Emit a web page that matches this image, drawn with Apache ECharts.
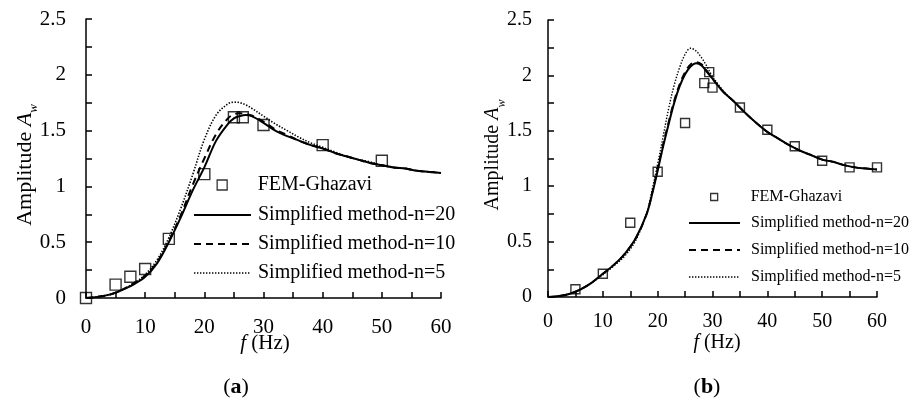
<!DOCTYPE html>
<html><head><meta charset="utf-8">
<script src="https://cdn.jsdelivr.net/npm/echarts@6/dist/echarts.min.js"></script>
<style>html,body{margin:0;padding:0;background:#fff}#c{width:913px;height:401px}</style>
</head><body><div id="c"></div>
<script>
// ---------- data ----------
const legendNames = ['FEM-Ghazavi', 'Simplified method-n=20', 'Simplified method-n=10', 'Simplified method-n=5'];
const panelLabels = ['a', 'b'];
const xAxisTitle = '{i|f} (Hz)';
const yAxisTitle = '{n|Amplitude }{i|A}{s|w}';

// panel (a)
const aFemX = [0, 5, 7.5, 10, 14, 20, 25, 26.5, 30, 40, 50];
const aFemY = [0, 0.12, 0.19, 0.26, 0.53, 1.11, 1.62, 1.62, 1.55, 1.37, 1.23];
const aCurveX = [0,2,4,6,8,10,12,14,16,18,20,22,24,25,26,27,28,30,32,34,36,38,40,42,44,46,48,50,52,54,56,58,60];
const aN20 = [0,0.01,0.03,0.07,0.12,0.19,0.31,0.50,0.72,0.96,1.17,1.41,1.56,1.61,1.63,1.64,1.63,1.57,1.50,1.45,1.41,1.37,1.34,1.30,1.27,1.24,1.21,1.19,1.17,1.16,1.14,1.13,1.12];
const aN10 = [0,0.01,0.03,0.07,0.13,0.20,0.32,0.51,0.74,1.01,1.25,1.47,1.61,1.645,1.655,1.65,1.635,1.58,1.51,1.46,1.41,1.37,1.34,1.30,1.27,1.24,1.21,1.19,1.17,1.16,1.14,1.13,1.12];
const aN5  = [0,0.01,0.03,0.07,0.13,0.21,0.34,0.54,0.80,1.10,1.42,1.64,1.74,1.755,1.75,1.73,1.70,1.63,1.56,1.50,1.44,1.39,1.35,1.31,1.27,1.24,1.22,1.19,1.17,1.16,1.14,1.13,1.12];

// panel (b)
const bFemX = [5, 10, 15, 20, 25, 28.5, 29.4, 30, 35, 40, 45, 50, 55, 60];
const bFemY = [0.07, 0.21, 0.67, 1.13, 1.57, 1.93, 2.03, 1.89, 1.71, 1.51, 1.36, 1.23, 1.17, 1.17];
const bCurveX = [0,2,4,6,8,10,12,14,16,18,19,20,21,22,23,24,25,26,27,28,29,30,32,34,36,38,40,42,44,46,48,50,52,54,56,58,60];
const bN20 = [0,0.008,0.03,0.07,0.13,0.21,0.29,0.39,0.53,0.75,0.93,1.14,1.36,1.56,1.75,1.90,2.01,2.08,2.11,2.09,2.03,1.97,1.85,1.76,1.66,1.57,1.49,1.43,1.37,1.32,1.28,1.24,1.22,1.19,1.17,1.16,1.15];
const bN10 = [0,0.008,0.03,0.07,0.13,0.21,0.29,0.39,0.53,0.75,0.94,1.16,1.38,1.58,1.77,1.92,2.03,2.10,2.12,2.10,2.04,1.97,1.85,1.76,1.66,1.57,1.49,1.43,1.37,1.32,1.28,1.24,1.22,1.19,1.17,1.16,1.15];
const bN5  = [0,0.008,0.03,0.07,0.13,0.20,0.28,0.37,0.51,0.76,0.97,1.20,1.45,1.70,1.91,2.07,2.19,2.245,2.22,2.16,2.08,1.99,1.86,1.76,1.66,1.57,1.49,1.43,1.37,1.32,1.28,1.24,1.22,1.19,1.17,1.16,1.15];

const xMin = 0, xMax = 60, xTickStep = 5, xLabelStep = 10;
const yMin = 0, yMax = 2.5, yTickStep = 0.25, yLabelStep = 0.5;

// ---------- build ----------
const FONT = '"Liberation Serif","Times New Roman",serif';
const pair = (xs, ys) => xs.map((x, i) => [x, ys[i]]);
const every = step => v => (Math.abs(v / step - Math.round(v / step)) < 1e-6 ? String(+v.toFixed(3)) : '');
const ZW = '\u200b'; // keeps panel (b) series names distinct

const P = [
  { grid: {left: 86, top: 19, width: 355, height: 279}, fs: 21, lfs: 20, lab: [20, 19],
    xTitle: [265, 343], yTitle: [25, 165], yfs: 22,
    sym: 11, legL: 193, legIW: 57, scSym: 10, scTop: 175, lnTop: 205, lnGap: 9, lnLH: 20, txtPad: 2, suffix: '',
    fem: pair(aFemX, aFemY), c: [pair(aCurveX, aN20), pair(aCurveX, aN10), pair(aCurveX, aN5)], lw: [2, 2, 1.6], ttl: [236, 387] },
  { grid: {left: 548, top: 20, width: 329, height: 277}, fs: 20, lfs: 16, lab: [16, 15],
    xTitle: [717, 343], yTitle: [493, 155], yfs: 20,
    sym: 9, legL: 688, legIW: 51, scSym: 7, scTop: 189, lnTop: 215, lnGap: 11, lnLH: 16, txtPad: 6, suffix: ZW,
    fem: pair(bFemX, bFemY), c: [pair(bCurveX, bN20), pair(bCurveX, bN10), pair(bCurveX, bN5)], lw: [2, 1.8, 1.4], ttl: [707, 387] }
];
const lineTypes = ['solid', [7, 5], [1.4, 1.6]];

const axLine = () => ({show: true, lineStyle: {color: '#000', width: 1.5}});
const tick = () => ({show: true, inside: true, length: 6, lineStyle: {color: '#000', width: 1.5}});

const option = { animation: false, grid: [], xAxis: [], yAxis: [], series: [], legend: [], graphic: [] };
P.forEach((p, k) => {
  option.grid.push(p.grid);
  option.xAxis.push({
    gridIndex: k, type: 'value', min: xMin, max: xMax, interval: xTickStep, z: 10,
    axisLine: axLine(), axisTick: tick(), splitLine: {show: false},
    axisLabel: {formatter: every(xLabelStep), fontFamily: FONT, fontSize: p.fs, color: '#000', margin: p.lab[1]}
  });
  option.yAxis.push({
    gridIndex: k, type: 'value', min: yMin, max: yMax, interval: yTickStep, z: 10,
    axisLine: axLine(), axisTick: tick(), splitLine: {show: false},
    axisLabel: {formatter: every(yLabelStep), fontFamily: FONT, fontSize: p.fs, color: '#000', margin: p.lab[0]}
  });
  const names = legendNames.map(n => n + p.suffix);
  option.series.push({
    name: names[0], type: 'scatter', xAxisIndex: k, yAxisIndex: k, data: p.fem, symbol: 'rect', symbolSize: p.sym, z: 5,
    itemStyle: {color: 'rgba(0,0,0,0)', borderColor: '#000', borderWidth: 1.4}
  });
  p.c.forEach((d, j) => option.series.push({
    name: names[j + 1], type: 'line', xAxisIndex: k, yAxisIndex: k, data: d, smooth: 0.35, symbol: 'none', showSymbol: false,
    itemStyle: {color: '#000'},
    lineStyle: {color: '#000', width: p.lw[j], type: lineTypes[j]}, z: 3 - j
  }));
  const iconCenter = p.legL + p.legIW / 2;
  const scLeft = iconCenter - p.scSym / 2;
  const textX = p.legL + p.legIW + 5 + p.txtPad;
  option.legend.push({
    orient: 'vertical', left: scLeft, top: p.scTop, padding: 0, itemWidth: p.scSym, itemHeight: p.scSym, selectedMode: false,
    textStyle: {fontFamily: FONT, fontSize: p.lfs, color: '#000', lineHeight: p.lnLH, padding: [0, 0, 0, textX - (scLeft + p.scSym + 5)]},
    itemStyle: {color: 'rgba(0,0,0,0)', borderColor: '#000', borderWidth: 1.3},
    data: [{name: names[0], icon: 'rect'}]
  });
  option.legend.push({
    orient: 'vertical', left: p.legL, top: p.lnTop, padding: 0, itemWidth: p.legIW, itemHeight: 14, itemGap: p.lnGap, selectedMode: false,
    textStyle: {fontFamily: FONT, fontSize: p.lfs, color: '#000', lineHeight: p.lnLH, padding: [0, 0, 0, p.txtPad]},
    data: names.slice(1).map((n, j) => ({name: n,
      itemStyle: {color: 'rgba(0,0,0,0)', borderWidth: 0, opacity: 0},
      lineStyle: {color: '#000', width: p.lw[j], type: lineTypes[j], opacity: 1}}))
  });
  option.graphic.push({
    type: 'text', x: p.xTitle[0], y: p.xTitle[1], silent: true,
    style: {text: xAxisTitle, align: 'center', verticalAlign: 'middle', fill: '#000', font: p.fs + 'px ' + FONT,
      rich: {i: {fontFamily: FONT, fontSize: p.fs, fontStyle: 'italic', fill: '#000'}}}
  });
  option.graphic.push({
    type: 'text', x: p.yTitle[0], y: p.yTitle[1], rotation: Math.PI / 2, silent: true,
    style: {text: yAxisTitle, align: 'center', verticalAlign: 'middle', fill: '#000', font: p.yfs + 'px ' + FONT,
      rich: {
        n: {fontFamily: FONT, fontSize: p.yfs, lineHeight: 30, fill: '#000'},
        i: {fontFamily: FONT, fontSize: p.yfs, fontStyle: 'italic', lineHeight: 30, fill: '#000'},
        s: {fontFamily: FONT, fontSize: Math.round(p.yfs * 0.6), fontStyle: 'italic', lineHeight: 14, verticalAlign: 'bottom', fill: '#000'}
      }}
  });
  option.graphic.push({
    type: 'text', x: p.ttl[0], y: p.ttl[1], silent: true,
    style: {text: '({b|' + panelLabels[k] + '})', align: 'center', verticalAlign: 'middle', fill: '#000',
      font: '22px ' + FONT, rich: {b: {fontFamily: FONT, fontSize: 22, fontWeight: 'bold', fill: '#000'}}}
  });
});

const chart = echarts.init(document.getElementById('c'), null, {renderer: 'canvas'});
chart.setOption(option);
</script>
</body></html>
